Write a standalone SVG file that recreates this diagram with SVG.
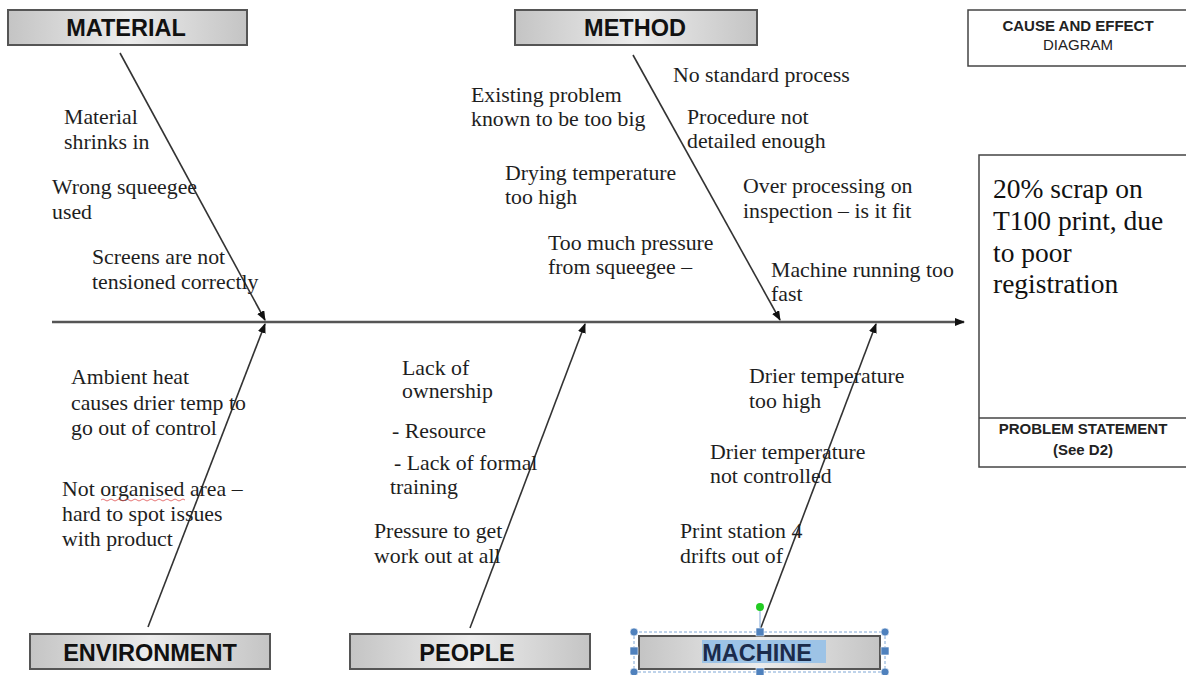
<svg xmlns="http://www.w3.org/2000/svg" width="1186" height="675" viewBox="0 0 1186 675">
<defs>
<linearGradient id="hdr" x1="0" y1="0" x2="1" y2="0">
<stop offset="0" stop-color="#c4c4c4"/>
<stop offset="0.5" stop-color="#ececec"/>
<stop offset="1" stop-color="#c4c4c4"/>
</linearGradient>
<marker id="arr" markerWidth="10" markerHeight="8" refX="9" refY="4" orient="auto" markerUnits="userSpaceOnUse">
<path d="M0,0 L10,4 L0,8 Z" fill="#111"/>
</marker>
</defs>
<style>
.hbox{fill:url(#hdr);stroke:#555;stroke-width:2}
.htxt{font-family:"Liberation Sans",Arial,sans-serif;font-weight:bold;font-size:23.5px;fill:#111;text-anchor:middle}
.t{font-family:"Liberation Serif","Times New Roman",serif;font-size:21.8px;fill:#1e1e1e}
.bone{stroke:#333;stroke-width:1.6;fill:none;marker-end:url(#arr)}
.spine{stroke:#555;stroke-width:2.4;fill:none;marker-end:url(#arr)}
.frame{fill:#fff;stroke:#444;stroke-width:1.5}
.small{font-family:"Liberation Sans",Arial,sans-serif;font-size:15px;fill:#222;text-anchor:middle}
.h{fill:#4f81bd;stroke:#fff;stroke-width:0.6}
</style>
<rect width="1186" height="675" fill="#fff"/>

<g id="connectors">
<line class="spine" x1="52" y1="322" x2="964" y2="322"/>
<line class="bone" x1="120" y1="53" x2="265" y2="320"/>
<line class="bone" x1="633" y1="55" x2="780" y2="320"/>
<line class="bone" x1="148" y1="627" x2="265" y2="324"/>
<line class="bone" x1="470" y1="628" x2="585" y2="324"/>
<line class="bone" x1="760" y1="630" x2="876" y2="324"/>
</g>

<g id="material">
<rect class="hbox" x="8" y="10" width="239" height="35"/>
<text class="htxt" x="126" y="36">MATERIAL</text>
</g>
<g id="method">
<rect class="hbox" x="515" y="10" width="242" height="35"/>
<text class="htxt" x="635" y="36">METHOD</text>
</g>
<g id="environment">
<rect class="hbox" x="30" y="634" width="240" height="35"/>
<text class="htxt" x="150" y="661">ENVIRONMENT</text>
</g>
<g id="people">
<rect class="hbox" x="350" y="634" width="240" height="35"/>
<text class="htxt" x="467" y="661">PEOPLE</text>
</g>
<g id="machine">
<rect x="634" y="632" width="251" height="40" fill="none" stroke="#7fa7d6" stroke-width="1" stroke-dasharray="3,2"/>
<rect class="hbox" x="639" y="636" width="241" height="33"/>
<rect x="702" y="640" width="124" height="23" fill="#9dc3e6"/>
<text class="htxt" x="757" y="661" style="fill:#1b2b4b">MACHINE</text>
<line x1="760" y1="632" x2="760" y2="608" stroke="#7fa7d6" stroke-width="1"/>
<circle cx="760" cy="607" r="4" fill="#22cc22"/>
<circle class="h" cx="634" cy="632" r="4"/>
<circle class="h" cx="885" cy="632" r="4"/>
<circle class="h" cx="634" cy="672" r="4"/>
<circle class="h" cx="885" cy="672" r="4"/>
<rect class="h" x="756" y="628" width="8" height="8"/>
<rect class="h" x="630" y="647" width="8" height="8"/>
<rect class="h" x="881" y="647" width="8" height="8"/>
<rect class="h" x="756" y="668" width="8" height="8"/>
</g>

<g id="title">
<rect class="frame" x="968" y="10" width="222" height="56"/>
<text class="small" x="1078" y="31" style="font-weight:bold">CAUSE AND EFFECT</text>
<text class="small" x="1078" y="50">DIAGRAM</text>
</g>

<g id="problem">
<rect class="frame" x="979" y="155" width="211" height="312"/>
<line x1="979" y1="418" x2="1190" y2="418" stroke="#444" stroke-width="1.5"/>
<text font-family="'Liberation Serif','Times New Roman',serif" font-size="27.5" fill="#111">
<tspan x="993" y="198">20% scrap on</tspan>
<tspan x="993" y="230">T100 print, due</tspan>
<tspan x="993" y="262">to poor</tspan>
<tspan x="993" y="293">registration</tspan>
</text>
<text class="small" x="1083" y="434" style="font-weight:bold">PROBLEM STATEMENT</text>
<text class="small" x="1083" y="455" style="font-weight:bold">(See D2)</text>
</g>

<g id="material-causes">
<text class="t"><tspan x="64" y="124">Material</tspan><tspan x="64" y="149">shrinks in</tspan></text>
<text class="t"><tspan x="52" y="194">Wrong squeegee</tspan><tspan x="52" y="219">used</tspan></text>
<text class="t"><tspan x="92" y="264">Screens are not</tspan><tspan x="92" y="289">tensioned correctly</tspan></text>
</g>

<g id="method-causes">
<text class="t"><tspan x="471" y="102">Existing problem</tspan><tspan x="471" y="126">known to be too big</tspan></text>
<text class="t"><tspan x="673" y="82">No standard process</tspan></text>
<text class="t"><tspan x="687" y="124">Procedure not</tspan><tspan x="687" y="148">detailed enough</tspan></text>
<text class="t"><tspan x="505" y="180">Drying temperature</tspan><tspan x="505" y="204">too high</tspan></text>
<text class="t"><tspan x="743" y="193">Over processing on</tspan><tspan x="743" y="218">inspection – is it fit</tspan></text>
<text class="t"><tspan x="548" y="250">Too much pressure</tspan><tspan x="548" y="274">from squeegee –</tspan></text>
<text class="t"><tspan x="771" y="277">Machine running too</tspan><tspan x="771" y="301">fast</tspan></text>
</g>

<g id="environment-causes">
<text class="t"><tspan x="71" y="384">Ambient heat</tspan><tspan x="71" y="410">causes drier temp to</tspan><tspan x="71" y="435">go out of control</tspan></text>
<text class="t"><tspan x="62" y="496">Not organised area –</tspan><tspan x="62" y="521">hard to spot issues</tspan><tspan x="62" y="546">with product</tspan></text>
<path d="M101,500 q2,-2 4,0 t4,0 t4,0 t4,0 t4,0 t4,0 t4,0 t4,0 t4,0 t4,0 t4,0 t4,0 t4,0 t4,0 t4,0 t4,0 t4,0 t4,0 t4,0 t4,0 t4,0" fill="none" stroke="#e05050" stroke-width="0.8"/>
</g>

<g id="people-causes">
<text class="t"><tspan x="402" y="375">Lack of</tspan><tspan x="402" y="398">ownership</tspan></text>
<text class="t"><tspan x="392" y="438">- Resource</tspan></text>
<text class="t"><tspan x="394" y="470">- Lack of formal</tspan><tspan x="390" y="494">training</tspan></text>
<text class="t"><tspan x="374" y="538">Pressure to get</tspan><tspan x="374" y="563">work out at all</tspan></text>
</g>

<g id="machine-causes">
<text class="t"><tspan x="749" y="383">Drier temperature</tspan><tspan x="749" y="408">too high</tspan></text>
<text class="t"><tspan x="710" y="459">Drier temperature</tspan><tspan x="710" y="483">not controlled</tspan></text>
<text class="t"><tspan x="680" y="538">Print station 4</tspan><tspan x="680" y="563">drifts out of</tspan></text>
</g>
</svg>
